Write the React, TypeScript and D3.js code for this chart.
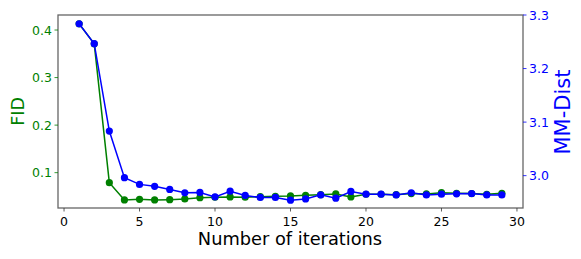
import React from "react";
import * as d3 from "d3";

const iterations = [1,2,3,4,5,6,7,8,9,10,11,12,13,14,15,16,17,18,19,20,21,22,23,24,25,26,27,28,29];
const fid = [0.413,0.371,0.079,0.0426,0.044,0.0426,0.0433,0.0447,0.0475,0.0483,0.049,0.0483,0.0496,0.0504,0.051,0.0525,0.0538,0.0553,0.049,0.0546,0.0546,0.0538,0.056,0.0553,0.058,0.0567,0.056,0.0546,0.0567];
const mmDist = [3.2837,3.2464,3.0832,2.9963,2.9837,2.98,2.9742,2.9679,2.9686,2.9604,2.971,2.963,2.9593,2.9593,2.9542,2.9566,2.9641,2.958,2.9705,2.9654,2.9654,2.9641,2.9679,2.9641,2.9654,2.966,2.9667,2.9641,2.9641];
const xTicks = [0,5,10,15,20,25,30];
const fidTicks = [0.1,0.2,0.3,0.4];
const mmTicks = [3.0,3.1,3.2,3.3];

const W = 581, H = 259;
const L = 58, R = 523, T = 15, B = 208;
const GREEN = "#008000", BLUE = "#0000ff";
const FONT = "DejaVu Sans, sans-serif";

export default function App() {
  const x = d3.scaleLinear().domain([-0.4, 30.4]).range([L, R]);
  const yL = d3.scaleLinear().domain([0.0257, 0.4316]).range([B, T]);
  const yR = d3.scaleLinear().domain([2.9396, 3.3]).range([B, T]);
  const lineG = d3.line<number>().x((_, i) => x(iterations[i])).y((d) => yL(d));
  const lineB = d3.line<number>().x((_, i) => x(iterations[i])).y((d) => yR(d));
  return (
    <svg width={W} height={H} style={{ position: "absolute", left: 0, top: 0 }} fontFamily={FONT}>
      <rect width={W} height={H} fill="#fff" />
      <path d={lineG(fid) || ""} fill="none" stroke={GREEN} strokeWidth={1.5} />
      {fid.map((d, i) => (
        <circle key={"g" + i} cx={x(iterations[i])} cy={yL(d)} r={3.6} fill={GREEN} />
      ))}
      <path d={lineB(mmDist) || ""} fill="none" stroke={BLUE} strokeWidth={1.5} />
      {mmDist.map((d, i) => (
        <circle key={"b" + i} cx={x(iterations[i])} cy={yR(d)} r={3.6} fill={BLUE} />
      ))}
      <rect x={L} y={T} width={R - L} height={B - T} fill="none" stroke="#666" strokeWidth={1.3} />
      {xTicks.map((t) => (
        <g key={"x" + t}>
          <line x1={x(t)} x2={x(t)} y1={B} y2={B + 3.5} stroke="#333" strokeWidth={0.8} />
          <text x={x(t)} y={225.5} textAnchor="middle" fontSize={12.5} fill="#000">{t}</text>
        </g>
      ))}
      {fidTicks.map((t) => (
        <g key={"l" + t}>
          <line x1={L - 3.5} x2={L} y1={yL(t)} y2={yL(t)} stroke={GREEN} strokeWidth={0.8} />
          <text x={L - 6} y={yL(t) + 4.5} textAnchor="end" fontSize={12.5} fill={GREEN}>{t.toFixed(1)}</text>
        </g>
      ))}
      {mmTicks.map((t) => (
        <g key={"r" + t}>
          <line x1={R} x2={R + 3.5} y1={yR(t)} y2={yR(t)} stroke={BLUE} strokeWidth={0.8} />
          <text x={R + 6} y={yR(t) + 4.5} textAnchor="start" fontSize={12.5} fill={BLUE}>{t.toFixed(1)}</text>
        </g>
      ))}
      <text x={290} y={245} textAnchor="middle" fontSize={17.8} fill="#000">Number of iterations</text>
      <text transform={`translate(24,${(T + B) / 2}) rotate(-90)`} textAnchor="middle" fontSize={17.5} fill={GREEN}>FID</text>
      <text transform={`translate(570,${112}) rotate(-90)`} textAnchor="middle" fontSize={21} fill={BLUE}>MM-Dist</text>
    </svg>
  );
}
